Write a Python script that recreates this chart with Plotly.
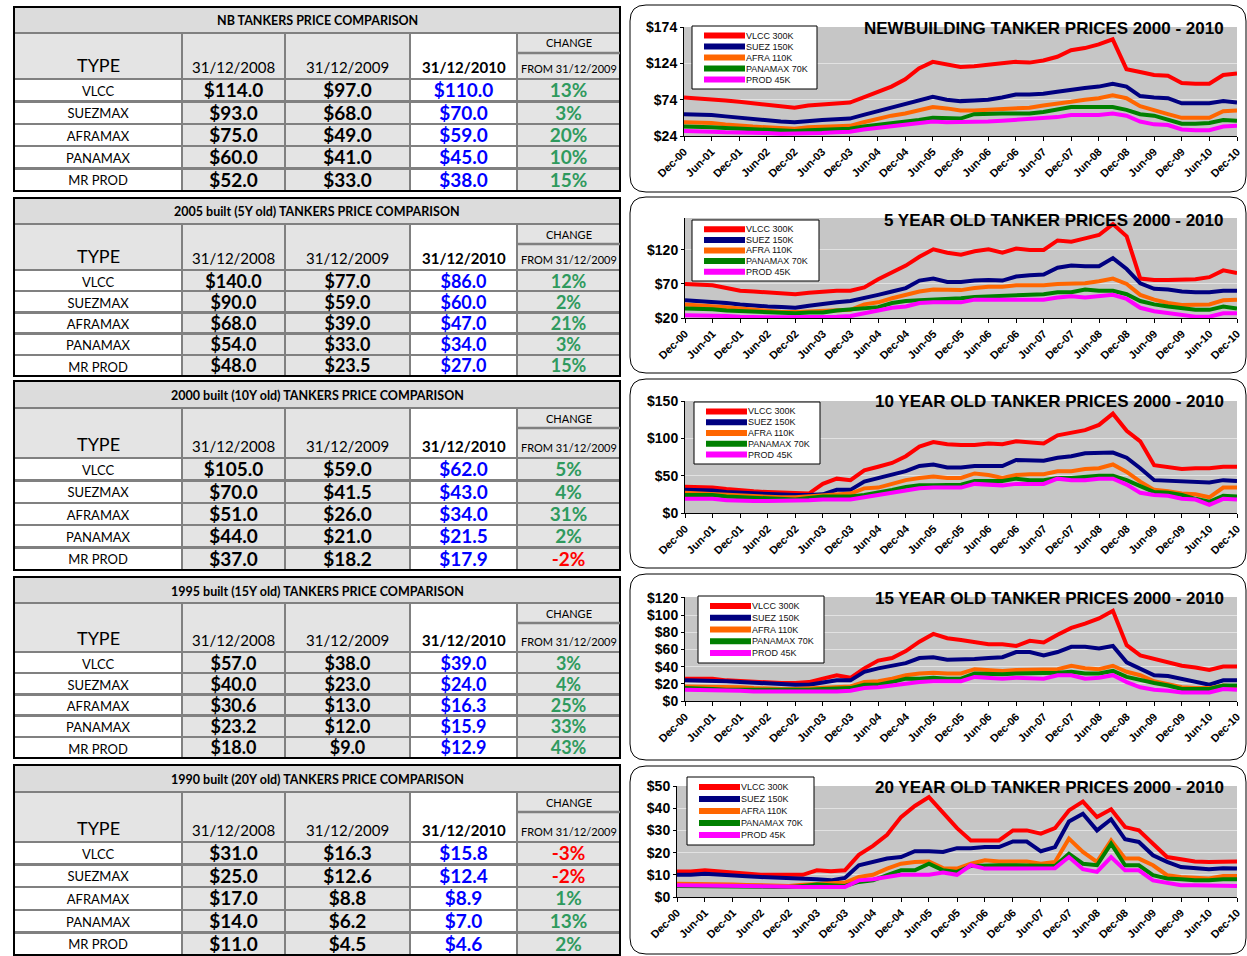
import plotly.graph_objects as go

W, H = 1247, 956

# ---------------- table data ----------------
TYPES = ["VLCC", "SUEZMAX", "AFRAMAX", "PANAMAX", "MR PROD"]
DATE_HEADERS = ["31/12/2008", "31/12/2009", "31/12/2010"]

NB_2008 = [114.0, 93.0, 75.0, 60.0, 52.0]
NB_2009 = [97.0, 68.0, 49.0, 41.0, 33.0]
NB_2010 = [110.0, 70.0, 59.0, 45.0, 38.0]
NB_CHG = [13, 3, 20, 10, 15]

Y5_2008 = [140.0, 90.0, 68.0, 54.0, 48.0]
Y5_2009 = [77.0, 59.0, 39.0, 33.0, 23.5]
Y5_2010 = [86.0, 60.0, 47.0, 34.0, 27.0]
Y5_CHG = [12, 2, 21, 3, 15]

Y10_2008 = [105.0, 70.0, 51.0, 44.0, 37.0]
Y10_2009 = [59.0, 41.5, 26.0, 21.0, 18.2]
Y10_2010 = [62.0, 43.0, 34.0, 21.5, 17.9]
Y10_CHG = [5, 4, 31, 2, -2]

Y15_2008 = [57.0, 40.0, 30.6, 23.2, 18.0]
Y15_2009 = [38.0, 23.0, 13.0, 12.0, 9.0]
Y15_2010 = [39.0, 24.0, 16.3, 15.9, 12.9]
Y15_CHG = [3, 4, 25, 33, 43]

Y20_2008 = [31.0, 25.0, 17.0, 14.0, 11.0]
Y20_2009 = [16.3, 12.6, 8.8, 6.2, 4.5]
Y20_2010 = [15.8, 12.4, 8.9, 7.0, 4.6]
Y20_CHG = [-3, -2, 1, 13, 2]

TABLE_TITLES = [
    "NB TANKERS PRICE COMPARISON",
    "2005 built (5Y old) TANKERS PRICE COMPARISON",
    "2000 built (10Y old) TANKERS PRICE COMPARISON",
    "1995 built (15Y old) TANKERS PRICE COMPARISON",
    "1990 built (20Y old) TANKERS PRICE COMPARISON",
]

# ---------------- chart data (quarterly, Dec-00 .. Dec-10) ----------------
DATES = [f"{2000 + (11 + 3 * i) // 12}-{(11 + 3 * i) % 12 + 1:02d}-01" for i in range(41)]
SERIES_NAMES = ["VLCC 300K", "SUEZ 150K", "AFRA 110K", "PANAMAX 70K", "PROD 45K"]
SERIES_COLORS = ["#ff0000", "#000080", "#ff6600", "#008000", "#ff00ff"]

NB_VLCC = [77, 76, 75, 73, 71, 69, 67, 65, 63, 66, 67, 68, 70, 77, 85, 92, 102, 117, 126, 122, 119, 120, 122, 123, 126, 125, 128, 133, 142, 145, 150, 157, 116, 112, 108, 107, 97, 96, 96, 108, 110]
NB_SUEZ = [54, 54, 53, 51, 49, 47, 45, 44, 43, 45, 46, 47, 48, 53, 58, 62, 67, 72, 78, 74, 72, 73, 74, 77, 81, 81, 82, 85, 88, 90, 92, 96, 92, 79, 77, 76, 69, 69, 69, 72, 70]
NB_AFRA = [43, 43, 42, 40, 38, 37, 36, 35, 34, 36, 37, 37, 38, 43, 48, 52, 55, 60, 64, 62, 59, 59, 60, 61, 62, 63, 66, 68, 71, 74, 76, 80, 76, 65, 59, 54, 49, 49, 49, 58, 59]
NB_PANA = [37, 37, 36, 35, 34, 33, 32, 31, 31, 32, 33, 33, 34, 37, 39, 41, 43, 46, 49, 48, 48, 54, 55, 55, 55, 55, 57, 60, 64, 64, 64, 64, 60, 54, 52, 47, 41, 41, 42, 46, 45]
NB_PROD = [31, 31, 30, 29, 29, 28, 28, 27, 27, 28, 28, 29, 30, 33, 35, 37, 39, 41, 44, 43, 43, 43, 44, 45, 46, 47, 48, 50, 53, 53, 53, 55, 52, 44, 40, 39, 33, 32, 32, 37, 38]

Y5_VLCC = [70, 69, 68, 64, 60, 59, 58, 56, 55, 57, 59, 60, 60, 65, 77, 87, 97, 110, 121, 116, 113, 118, 121, 116, 122, 120, 120, 134, 132, 137, 142, 158, 140, 78, 76, 76, 77, 77, 80, 90, 86]
Y5_SUEZ = [46, 45, 44, 42, 40, 38, 37, 36, 35, 38, 41, 43, 45, 49, 54, 59, 64, 75, 78, 73, 73, 75, 76, 75, 81, 83, 84, 94, 97, 96, 96, 108, 92, 71, 63, 62, 59, 58, 58, 60, 60]
Y5_AFRA = [40, 39, 38, 36, 34, 32, 30, 29, 29, 30, 31, 32, 32, 40, 43, 49, 54, 59, 62, 61, 61, 64, 66, 66, 68, 68, 68, 70, 70, 71, 74, 78, 70, 54, 47, 42, 39, 39, 40, 46, 47]
Y5_PANA = [34, 34, 33, 31, 30, 29, 28, 27, 27, 28, 28, 31, 33, 34, 36, 42, 45, 46, 47, 47, 49, 51, 52, 52, 54, 55, 55, 58, 58, 62, 60, 60, 55, 45, 40, 37, 34, 32, 32, 37, 34]
Y5_PROD = [24, 24, 24, 23, 22, 21, 21, 21, 21, 21, 21, 22, 23, 27, 30, 35, 37, 42, 43, 43, 43, 47, 47, 46, 46, 47, 47, 50, 52, 50, 52, 54, 48, 35, 30, 27, 24, 22, 22, 27, 27]

Y10_VLCC = [35, 35, 34, 32, 30, 29, 28, 27, 27, 26, 39, 46, 44, 57, 62, 67, 76, 89, 95, 92, 91, 91, 93, 92, 96, 95, 93, 104, 107, 111, 118, 133, 110, 96, 64, 61, 59, 60, 60, 62, 62]
Y10_SUEZ = [31, 31, 30, 28, 27, 26, 25, 25, 24, 24, 25, 31, 31, 42, 47, 51, 56, 63, 65, 61, 61, 63, 63, 63, 71, 70, 70, 74, 76, 80, 81, 81, 74, 60, 44, 43, 42, 41, 41, 44, 43]
Y10_AFRA = [27, 26, 25, 24, 24, 23, 22, 21, 21, 22, 24, 25, 26, 33, 34, 39, 44, 47, 49, 47, 47, 53, 51, 47, 51, 52, 52, 56, 56, 59, 60, 65, 55, 42, 31, 29, 26, 25, 21, 34, 34]
Y10_PANA = [24, 24, 24, 22, 21, 20, 19, 18, 18, 20, 22, 22, 22, 24, 27, 31, 35, 37, 37, 38, 38, 43, 43, 43, 46, 44, 44, 47, 47, 49, 50, 50, 44, 36, 28, 27, 24, 19, 15, 23, 22]
Y10_PROD = [19, 19, 19, 17, 16, 16, 16, 16, 16, 17, 18, 18, 18, 21, 24, 27, 31, 33, 34, 34, 34, 39, 38, 37, 39, 39, 39, 46, 44, 44, 46, 46, 38, 27, 24, 23, 19, 18, 11, 19, 18]

Y15_VLCC = [26, 26, 26, 24, 23, 22, 22, 21, 21, 22, 26, 30, 27, 38, 47, 50, 58, 69, 78, 73, 71, 68, 66, 66, 64, 70, 68, 77, 85, 90, 96, 105, 65, 53, 49, 46, 41, 39, 36, 40, 40]
Y15_SUEZ = [24, 24, 24, 23, 22, 21, 21, 20, 19, 19, 22, 24, 24, 34, 38, 41, 44, 50, 51, 48, 48, 49, 50, 51, 57, 57, 53, 57, 63, 63, 61, 64, 45, 38, 30, 29, 26, 22, 19, 24, 24]
Y15_AFRA = [17, 17, 17, 16, 16, 15, 14, 14, 14, 15, 16, 16, 17, 22, 23, 26, 30, 32, 33, 32, 32, 37, 36, 35, 36, 36, 36, 37, 41, 38, 37, 41, 34, 30, 23, 19, 16, 15, 15, 18, 17]
Y15_PANA = [15, 15, 14, 13, 13, 12, 12, 12, 12, 13, 14, 14, 15, 19, 19, 22, 26, 26, 27, 26, 26, 32, 31, 31, 32, 32, 32, 33, 34, 32, 32, 35, 28, 24, 21, 18, 14, 14, 14, 18, 18]
Y15_PROD = [13, 13, 12, 12, 12, 11, 11, 10, 10, 10, 11, 11, 12, 15, 16, 18, 21, 22, 23, 23, 23, 28, 27, 26, 27, 27, 26, 30, 30, 26, 27, 30, 22, 16, 13, 12, 10, 10, 10, 14, 13]

Y20_VLCC = [11.5, 11.5, 12, 11.5, 11.3, 10.5, 10, 10, 9.8, 10, 12, 11.6, 12, 19, 23, 28, 36, 41, 45, 38, 31, 25.5, 25.5, 25.5, 30, 30, 28.5, 31, 39, 43, 36, 39.5, 31.5, 30, 24, 18, 17, 16, 15.8, 16, 16]
Y20_SUEZ = [10, 10, 10.5, 10, 9.8, 9.3, 9, 8.8, 8.6, 8.2, 8, 7.5, 8.6, 14.3, 15.8, 17.3, 18, 20.6, 20.6, 20.3, 22, 22, 22.5, 22.5, 25, 25, 20.6, 22.5, 34, 37.5, 30, 35, 26, 24.8, 18.8, 15.8, 13.5, 12.8, 12.5, 13, 12.8]
Y20_AFRA = [6, 6, 6, 5.8, 5.6, 5.4, 5.2, 5, 5, 5.5, 6, 6.2, 6.5, 9, 10, 12.8, 15, 15.8, 16, 13, 12.8, 15, 16.5, 16, 16, 16, 15, 15.8, 26.3, 20.3, 15.8, 25.5, 17.3, 17.3, 14.3, 9.8, 9, 8.6, 8.3, 9.5, 9.5]
Y20_PANA = [5, 5, 5, 4.9, 4.8, 4.7, 4.6, 4.5, 4.5, 5, 5.6, 5.3, 5, 6.8, 7.5, 9.8, 12, 12, 15, 12, 11.3, 14, 14.3, 14.3, 14.3, 14.3, 14, 14, 19.5, 15, 14.3, 24, 14.3, 14.3, 9.8, 8.3, 8, 7.5, 7.5, 8, 8]
Y20_PROD = [5.3, 5.3, 5.3, 5.2, 5, 4.9, 4.8, 4.6, 4.5, 4.5, 4.5, 4.5, 4.5, 7.5, 8, 9, 10, 10, 10, 11, 10, 14.3, 12.8, 12.8, 12.8, 12.8, 12.8, 13, 18, 12.5, 11.3, 18, 12, 12, 7.5, 6.5, 5.3, 5.3, 5.3, 5, 5]

CHART_TITLES = [
    "NEWBUILDING TANKER PRICES 2000 - 2010",
    "5 YEAR OLD TANKER PRICES 2000 - 2010",
    "10 YEAR OLD TANKER PRICES 2000 - 2010",
    "15 YEAR OLD TANKER PRICES 2000 - 2010",
    "20 YEAR OLD TANKER PRICES 2000 - 2010",
]
Y_TICKS = [[24, 74, 124, 174], [20, 70, 120], [0, 50, 100, 150],
           [0, 20, 40, 60, 80, 100, 120], [0, 10, 20, 30, 40, 50]]
Y_RANGES = [[24, 174], [20, 167], [0, 150], [0, 121], [0, 50]]

# ---------------- layout geometry (pixels of the 1247x956 page) ----------------
TABLE_GEOM = [  # top, title_h, header_h, row_h, value font size
    (7, 26, 46, 22.4, 19),
    (198, 26, 46, 21.2, 18),
    (381, 27, 50, 22.4, 19),
    (577, 26, 49, 21.2, 18),
    (765, 27, 50, 22.6, 19),
]
TX0, TX1 = 14, 620
COLW = [168, 103, 125, 107, 103]
TXT_HDR = 6       # height of the (invisible) header of the text tables
VALUE_SHIFT = 4   # compensates the table's internal top padding of cell text
TYPE_SHIFT = 1

CHART_GEOM = [  # box, plot area, legend box, title y
    dict(box=(630, 5, 1246, 192), plot=(684, 27, 1237, 136), leg=(692, 26, 817, 89), ty=28),
    dict(box=(630, 197, 1246, 373), plot=(685, 218, 1237, 318), leg=(692, 220, 819, 281), ty=220),
    dict(box=(630, 379, 1246, 568), plot=(685, 401, 1237, 513), leg=(694, 402, 820, 464), ty=401),
    dict(box=(630, 574, 1246, 760), plot=(685, 597, 1237, 701), leg=(698, 596, 824, 663), ty=598),
    dict(box=(630, 766, 1246, 954), plot=(677, 786, 1237, 897), leg=(687, 777, 814, 845), ty=787),
]


def px(x):
    return min(max(x / W, 0.0), 1.0)


def py(y):
    return min(max(1 - y / H, 0.0), 1.0)


TABLE_FONT = "Lato, 'Open Sans', sans-serif"
CHART_FONT = "'Liberation Sans', Arial, sans-serif"
GRAY = "#e4e4e4"
GREEN = "#2f9a5e"
CLEAR = "rgba(0,0,0,0)"

fig = go.Figure()
shapes = []
annotations = []

tables = [
    (NB_2008, NB_2009, NB_2010, NB_CHG),
    (Y5_2008, Y5_2009, Y5_2010, Y5_CHG),
    (Y10_2008, Y10_2009, Y10_2010, Y10_CHG),
    (Y15_2008, Y15_2009, Y15_2010, Y15_CHG),
    (Y20_2008, Y20_2009, Y20_2010, Y20_CHG),
]
col_edges = [TX0]
for w in COLW:
    col_edges.append(col_edges[-1] + w)
col_centers = [(col_edges[i] + col_edges[i + 1]) / 2 for i in range(5)]


def hdr(text, x, y, size, bold=False):
    annotations.append(dict(xref="paper", yref="paper", x=px(x), y=py(y), xanchor="center",
                            yanchor="middle", showarrow=False,
                            text=f"<b>{text}</b>" if bold else text,
                            font=dict(family=TABLE_FONT, size=size, color="black")))


for t, (v08, v09, v10, chg) in enumerate(tables):
    top, th, hh, rh, vfs = TABLE_GEOM[t]
    hb = top + th + hh            # header bottom
    bottom = hb + 5 * rh
    # title row
    shapes.append(dict(type="rect", xref="paper", yref="paper",
                       x0=px(TX0), x1=px(TX1), y0=py(top + th), y1=py(top),
                       fillcolor="#dcdcdc", line=dict(color="black", width=2), layer="below"))
    annotations.append(dict(xref="paper", yref="paper", x=px((TX0 + TX1) / 2), y=py(top + th / 2 + 1),
                            xanchor="center", yanchor="middle", showarrow=False,
                            text=f"<b>{TABLE_TITLES[t]}</b>",
                            font=dict(family=TABLE_FONT, size=12.5, color="black")))
    # grid / fills (structure table)
    fig.add_trace(go.Table(
        domain=dict(x=[px(TX0), px(TX1)], y=[py(bottom + 1), py(top + th)]),
        columnwidth=COLW,
        header=dict(values=[""] * 5, height=hh,
                    fill_color=[GRAY, GRAY, GRAY, "white", GRAY],
                    line=dict(color="#808080", width=2.5)),
        cells=dict(values=[[""] * 5 for _ in range(5)], height=rh,
                   fill_color=["white", GRAY, GRAY, "white", GRAY],
                   line=dict(color="#808080", width=2.5)),
    ))
    # TYPE text column
    fig.add_trace(go.Table(
        domain=dict(x=[px(col_edges[0]), px(col_edges[1])],
                    y=[py(bottom + 1), py(hb - TYPE_SHIFT - TXT_HDR)]),
        columnwidth=[1],
        header=dict(values=[""], height=TXT_HDR, fill_color=CLEAR, line=dict(color=CLEAR, width=0)),
        cells=dict(values=[[s.replace(" ", "\u00a0") for s in TYPES]], height=rh,
                   fill_color=CLEAR, line=dict(color=CLEAR, width=0),
                   font=dict(family=TABLE_FONT, size=13, color="black"), align="center"),
    ))
    # value text columns
    chg_colors = [GREEN if c >= 0 else "#ff0000" for c in chg]
    fig.add_trace(go.Table(
        domain=dict(x=[px(col_edges[1]), px(col_edges[5])],
                    y=[py(bottom + 1), py(hb - VALUE_SHIFT - TXT_HDR)]),
        columnwidth=COLW[1:],
        header=dict(values=[""] * 4, height=TXT_HDR, fill_color=CLEAR, line=dict(color=CLEAR, width=0)),
        cells=dict(values=[[f"${v:.1f}" for v in v08], [f"${v:.1f}" for v in v09],
                           [f"${v:.1f}" for v in v10], [f"{c}%" for c in chg]],
                   height=rh, fill_color=CLEAR, line=dict(color=CLEAR, width=0),
                   font=dict(family=TABLE_FONT, size=vfs, weight="bold",
                             color=[["black"] * 5, ["black"] * 5, ["#0000ff"] * 5, chg_colors]),
                   align="center"),
    ))
    # header texts
    hdr("TYPE", col_centers[0], hb - 14, 18)
    hdr(DATE_HEADERS[0], col_centers[1], hb - 12, 15)
    hdr(DATE_HEADERS[1], col_centers[2], hb - 12, 15)
    hdr(DATE_HEADERS[2], col_centers[3], hb - 12, 15, bold=True)
    hdr("CHANGE", col_centers[4], top + th + 10, 11)
    hdr("FROM 31/12/2009", col_centers[4], hb - 11, 11)
    # outer border and CHANGE divider
    shapes.append(dict(type="rect", xref="paper", yref="paper",
                       x0=px(TX0), x1=px(TX1), y0=py(bottom), y1=py(top),
                       line=dict(color="black", width=2)))
    shapes.append(dict(type="line", xref="paper", yref="paper",
                       x0=px(col_edges[4]), x1=px(TX1), y0=py(top + th + 20), y1=py(top + th + 20),
                       line=dict(color="#808080", width=2.5)))

chart_series = [
    [NB_VLCC, NB_SUEZ, NB_AFRA, NB_PANA, NB_PROD],
    [Y5_VLCC, Y5_SUEZ, Y5_AFRA, Y5_PANA, Y5_PROD],
    [Y10_VLCC, Y10_SUEZ, Y10_AFRA, Y10_PANA, Y10_PROD],
    [Y15_VLCC, Y15_SUEZ, Y15_AFRA, Y15_PANA, Y15_PROD],
    [Y20_VLCC, Y20_SUEZ, Y20_AFRA, Y20_PANA, Y20_PROD],
]

layout_axes = {}


def rounded(x0, y0, x1, y1, r):
    X = lambda v: px(v)
    Y = lambda v: py(v)
    return (f"M {X(x0 + r)},{Y(y0)} L {X(x1 - r)},{Y(y0)} Q {X(x1)},{Y(y0)} {X(x1)},{Y(y0 + r)} "
            f"L {X(x1)},{Y(y1 - r)} Q {X(x1)},{Y(y1)} {X(x1 - r)},{Y(y1)} "
            f"L {X(x0 + r)},{Y(y1)} Q {X(x0)},{Y(y1)} {X(x0)},{Y(y1 - r)} "
            f"L {X(x0)},{Y(y0 + r)} Q {X(x0)},{Y(y0)} {X(x0 + r)},{Y(y0)} Z")


for c in range(5):
    g = CHART_GEOM[c]
    idx = "" if c == 0 else str(c + 1)
    xa, ya = "x" + idx, "y" + idx
    for s in range(5):
        fig.add_trace(go.Scatter(
            x=DATES, y=chart_series[c][s], mode="lines", name=SERIES_NAMES[s],
            line=dict(color=SERIES_COLORS[s], width=4), xaxis=xa, yaxis=ya,
            showlegend=False, hoverinfo="skip"))
    px0, py0, px1, py1 = g["plot"]
    layout_axes["xaxis" + idx] = dict(
        domain=[px(px0), px(px1)], anchor=ya, type="date", automargin=False,
        range=[DATES[0], DATES[-1]], tick0=DATES[0], dtick="M6", tickformat="%b-%y",
        tickangle=-45, ticks="outside", ticklen=4, tickcolor="black",
        showline=True, linecolor="black", linewidth=1, showgrid=False, zeroline=False,
        tickfont=dict(family=CHART_FONT, size=11, color="black", weight="bold"))
    layout_axes["yaxis" + idx] = dict(
        domain=[py(py1), py(py0)], anchor=xa, range=Y_RANGES[c], automargin=False,
        tickmode="array", tickvals=Y_TICKS[c], ticktext=[f"${v}" for v in Y_TICKS[c]],
        showline=True, linecolor="black", linewidth=1,
        showgrid=True, gridcolor="#e2e2e2", gridwidth=1, zeroline=False,
        ticks="outside", ticklen=3, tickcolor="black",
        tickfont=dict(family=CHART_FONT, size=14, color="black", weight="bold"))
    # rounded frame
    bx0, by0, bx1, by1 = g["box"]
    shapes.append(dict(type="path", xref="paper", yref="paper", path=rounded(bx0, by0, bx1, by1, 16),
                       line=dict(color="black", width=1), layer="below"))
    # title
    annotations.append(dict(xref="paper", yref="paper", x=px(1226), y=py(g["ty"]),
                            xanchor="right", yanchor="middle", showarrow=False,
                            text=f"<b>{CHART_TITLES[c]}</b>",
                            font=dict(family=CHART_FONT, size=17, color="black")))
    # legend
    lx0, ly0, lx1, ly1 = g["leg"]
    shapes.append(dict(type="rect", xref="paper", yref="paper", x0=px(lx0), x1=px(lx1),
                       y0=py(ly1), y1=py(ly0), fillcolor="white", line=dict(color="black", width=1)))
    step = (ly1 - ly0 - 8) / 5
    for s in range(5):
        yy = ly0 + 4 + step * (s + 0.5)
        shapes.append(dict(type="line", xref="paper", yref="paper", x0=px(lx0 + 12), x1=px(lx0 + 53),
                           y0=py(yy), y1=py(yy), line=dict(color=SERIES_COLORS[s], width=6)))
        annotations.append(dict(xref="paper", yref="paper", x=px(lx0 + 52), y=py(yy),
                                xanchor="left", yanchor="middle", showarrow=False,
                                text=SERIES_NAMES[s],
                                font=dict(family=CHART_FONT, size=9, color="#111")))

fig.update_layout(
    width=W, height=H, autosize=False,
    margin=dict(l=0, r=0, t=0, b=0, pad=0, autoexpand=False),
    paper_bgcolor="white", plot_bgcolor="#c6c6c6",
    showlegend=False, shapes=shapes, annotations=annotations,
    **layout_axes,
)

fig.write_html("out.html", config={"displayModeBar": False})
with open("out.html", "r", encoding="utf-8") as f:
    html = f.read()
html = html.replace("<head>", "<head><style>html,body{margin:0;padding:0;overflow:hidden}</style>", 1)
with open("out.html", "w", encoding="utf-8") as f:
    f.write(html)
